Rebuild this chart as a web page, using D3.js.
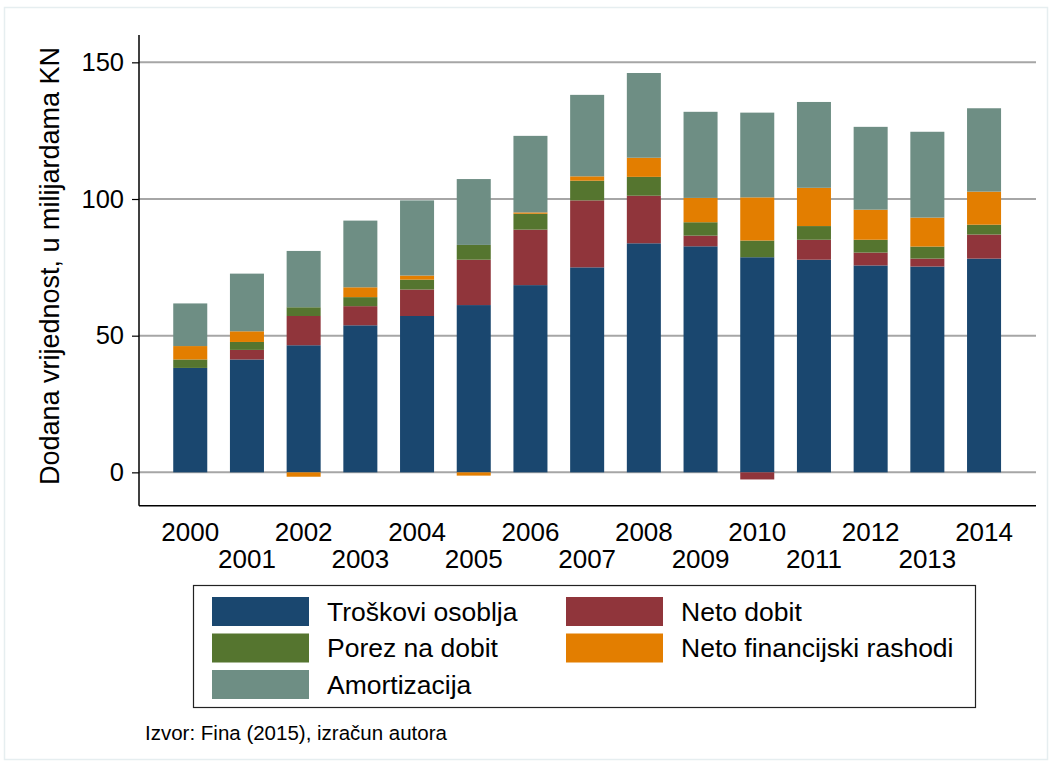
<!DOCTYPE html>
<html><head><meta charset="utf-8">
<script src="https://cdn.jsdelivr.net/npm/d3@7"></script>
<style>html,body{margin:0;padding:0;background:#fff;} svg{display:block;font-family:"Liberation Sans",Arial,sans-serif;}</style>
</head><body>
<script>
const years = [2000,2001,2002,2003,2004,2005,2006,2007,2008,2009,2010,2011,2012,2013,2014];
const troskoviOsoblja = [38.2,41.3,46.5,53.8,57.2,61.2,68.5,75.0,83.8,82.7,78.7,77.8,75.7,75.3,78.2];
const netoDobit = [0,3.5,10.7,7.0,9.7,16.6,20.3,24.5,17.4,3.9,-2.6,7.3,4.7,2.9,8.8];
const porezNaDobit = [3.1,2.9,3.2,3.3,3.6,5.4,5.8,7.2,6.9,4.9,6.1,5.0,4.7,4.4,3.6];
const netoFinRashodi = [4.9,3.9,-1.6,3.6,1.5,-1.2,0.5,1.6,7.0,8.9,15.8,14.0,11.0,10.6,12.1];
const amortizacija = [15.6,21.1,20.6,24.4,27.5,24.1,28.0,29.8,31.0,31.5,31.0,31.4,30.3,31.4,30.5];
const seriesNames = ["Troškovi osoblja","Neto dobit","Porez na dobit","Neto financijski rashodi","Amortizacija"];
const seriesColors = ["#1a476f","#90353b","#55752f","#e37e00","#6e8e84"];
const yTicks = [0,50,100,150];
const yTitle = "Dodana vrijednost, u milijardama KN";
const sourceNote = "Izvor: Fina (2015), izračun autora";

const W = 1052, H = 767;
const svg = d3.select("body").append("svg").attr("width", W).attr("height", H);

svg.append("rect").attr("x",4.5).attr("y",7.5).attr("width",1043).attr("height",752)
  .attr("fill","#fff").attr("stroke","#e6eef0").attr("stroke-width",1.5);

const plot = {left:139, right:1036, top:35, bottom:505.7};
const x = d3.scaleBand().domain(years).range([161.9, 1012.4]).paddingInner(0.4).paddingOuter(0.2);
const y = d3.scaleLinear().domain([-12.2,160]).range([plot.bottom, plot.top]);

const allSeries = [troskoviOsoblja, netoDobit, porezNaDobit, netoFinRashodi, amortizacija];
const rows = years.map((yr,i) => {
  const r = {year: yr};
  seriesNames.forEach((k,j) => r[k] = allSeries[j][i]);
  return r;
});
const stacked = d3.stack().keys(seriesNames).offset(d3.stackOffsetDiverging)(rows);

// gridlines
svg.append("g").selectAll("line").data(yTicks).join("line")
  .attr("x1", plot.left).attr("x2", plot.right)
  .attr("y1", d => y(d)).attr("y2", d => y(d))
  .attr("stroke","#a6a6a6").attr("stroke-width",2);

// bars
svg.append("g").selectAll("g").data(stacked).join("g")
  .attr("fill", (d,i) => seriesColors[i])
  .selectAll("rect").data(d => d).join("rect")
  .attr("x", d => x(d.data.year))
  .attr("width", x.bandwidth())
  .attr("y", d => y(Math.max(d[0], d[1])))
  .attr("height", d => Math.abs(y(d[0]) - y(d[1])));

// y axis
const yAxis = d3.axisLeft(y).tickValues(yTicks).tickSize(7).tickPadding(8);
const gy = svg.append("g").attr("transform", `translate(${plot.left},0)`).call(yAxis);
gy.select(".domain").remove();
gy.selectAll(".tick line").attr("stroke","#000").attr("stroke-width",1.2);
gy.selectAll(".tick text").attr("font-size",25.5).attr("fill","#000")
  .attr("font-family","Liberation Sans, Arial, sans-serif");
svg.append("line").attr("x1",plot.left).attr("x2",plot.left).attr("y1",plot.top).attr("y2",plot.bottom)
  .attr("stroke","#000").attr("stroke-width",1.5);
svg.append("line").attr("x1",plot.left).attr("x2",plot.right).attr("y1",plot.bottom).attr("y2",plot.bottom)
  .attr("stroke","#000").attr("stroke-width",1.5);

// x labels (alternating)
const xAxis = d3.axisBottom(x).tickSize(0).tickPadding(0);
const gx = svg.append("g").attr("transform", `translate(0,${plot.bottom})`).call(xAxis);
gx.select(".domain").remove();
gx.selectAll(".tick text").attr("font-size",26).attr("fill","#000")
  .attr("font-family","Liberation Sans, Arial, sans-serif")
  .attr("dy", null)
  .attr("y", (d,i) => i % 2 === 0 ? 35 : 62.5);

// y title
svg.append("text").attr("transform","translate(58.5,266) rotate(-90)")
  .attr("text-anchor","middle").attr("font-size",27).attr("fill","#000").text(yTitle);

// legend
const lg = svg.append("g");
lg.append("rect").attr("x",193.5).attr("y",585.5).attr("width",782).attr("height",122)
  .attr("fill","#fff").attr("stroke","#222").attr("stroke-width",1.2);
const legPos = [[0,0],[1,0],[0,1],[1,1],[0,2]];
seriesNames.forEach((name,i) => {
  const [c,r] = legPos[i];
  const sx = c === 0 ? 212 : 566;
  const sy = 597 + r*36.5;
  lg.append("rect").attr("x",sx).attr("y",sy).attr("width",97).attr("height",29).attr("fill",seriesColors[i]);
  lg.append("text").attr("x", sx + 115).attr("y", sy + 23.5).attr("font-size",26.5).attr("fill","#000").text(name);
});

svg.append("text").attr("x",145).attr("y",740).attr("font-size",20.5).attr("fill","#000").text(sourceNote);
</script>
</body></html>
